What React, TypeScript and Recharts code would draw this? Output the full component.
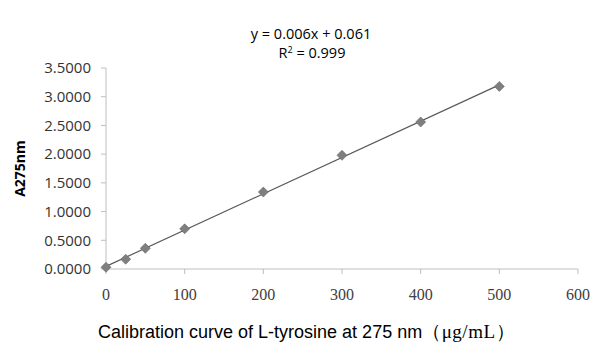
import { ScatterChart, Scatter, XAxis, YAxis, ReferenceLine, Label } from 'recharts';

const concentration = [0, 25, 50, 100, 200, 300, 400, 500];
const absorbance = [0.03, 0.17, 0.36, 0.7, 1.34, 1.98, 2.56, 3.18];
const xTicks = [0, 100, 200, 300, 400, 500, 600];
const yTicks = [0, 0.5, 1, 1.5, 2, 2.5, 3, 3.5];
const equation = 'y = 0.006x + 0.061';
const rSquared = '0.999';

const points = concentration.map((x, i) => ({ x, y: absorbance[i] }));

// least-squares trendline through the measured points
const n = points.length;
const mx = concentration.reduce((a, b) => a + b, 0) / n;
const my = absorbance.reduce((a, b) => a + b, 0) / n;
const slope =
  points.reduce((s, p) => s + (p.x - mx) * (p.y - my), 0) /
  points.reduce((s, p) => s + (p.x - mx) ** 2, 0);
const intercept = my - slope * mx;
const xFirst = concentration[0];
const xLast = concentration[n - 1];

const Diamond = (props: any) => {
  const { cx, cy } = props;
  const r = 5;
  return (
    <polygon
      points={`${cx},${cy - r} ${cx + r},${cy} ${cx},${cy + r} ${cx - r},${cy}`}
      fill="#7f7f7f"
      stroke="#666"
      strokeWidth={0.6}
    />
  );
};

export default function App() {
  return (
    <div style={{ position: 'absolute', left: 0, top: 0, width: 607, height: 362, background: '#fff' }}>
      <ScatterChart width={607} height={362} margin={{ top: 68, right: 29, left: 0, bottom: 0 }}>
        <XAxis
          type="number"
          dataKey="x"
          domain={[0, 600]}
          ticks={xTicks}
          interval={0}
          height={93}
          stroke="#bfbfbf"
          tickSize={5}
          tickMargin={15}
          tick={{ fontSize: 16, fill: '#404040', fontFamily: 'Liberation Serif, serif' }}
        />
        <YAxis
          type="number"
          dataKey="y"
          domain={[0, 3.5]}
          ticks={yTicks}
          interval={0}
          width={106}
          stroke="#bfbfbf"
          tickSize={5}
          tickMargin={10}
          tickFormatter={(v: number) => v.toFixed(4)}
          tick={{ fontSize: 15, fill: '#333', fontFamily: 'Open Sans, sans-serif' }}
        >
          <Label
            value="A275nm"
            angle={-90}
            position="insideLeft"
            offset={20}
            style={{ fontSize: 14, fontWeight: 'bold', fill: '#000', fontFamily: 'Open Sans, sans-serif', textAnchor: 'middle' }}
          />
        </YAxis>
        <ReferenceLine
          segment={[
            { x: xFirst, y: intercept + slope * xFirst },
            { x: xLast, y: intercept + slope * xLast },
          ]}
          stroke="#595959"
          strokeWidth={1.2}
          ifOverflow="extendDomain"
        />
        <Scatter data={points} shape={<Diamond />} isAnimationActive={false} />
        <text x={311} y={39} textAnchor="middle" fontSize={14.5} fontFamily="Open Sans, sans-serif" fill="#000">
          {equation}
        </text>
        <text x={312} y={58} textAnchor="middle" fontSize={14.5} fontFamily="Open Sans, sans-serif" fill="#000">
          R<tspan fontSize={9} dy={-5}>2</tspan>
          <tspan dy={5}> = {rSquared}</tspan>
        </text>
        <text x={98} y={338} fill="#000">
          <tspan fontFamily="Liberation Sans, Arial, sans-serif" fontSize={18}>
            Calibration curve of L-tyrosine at 275 nm
          </tspan>
          <tspan fontFamily="Liberation Serif, serif" fontSize={19} letterSpacing={0.5}>（μg/mL）</tspan>
        </text>
      </ScatterChart>
    </div>
  );
}
